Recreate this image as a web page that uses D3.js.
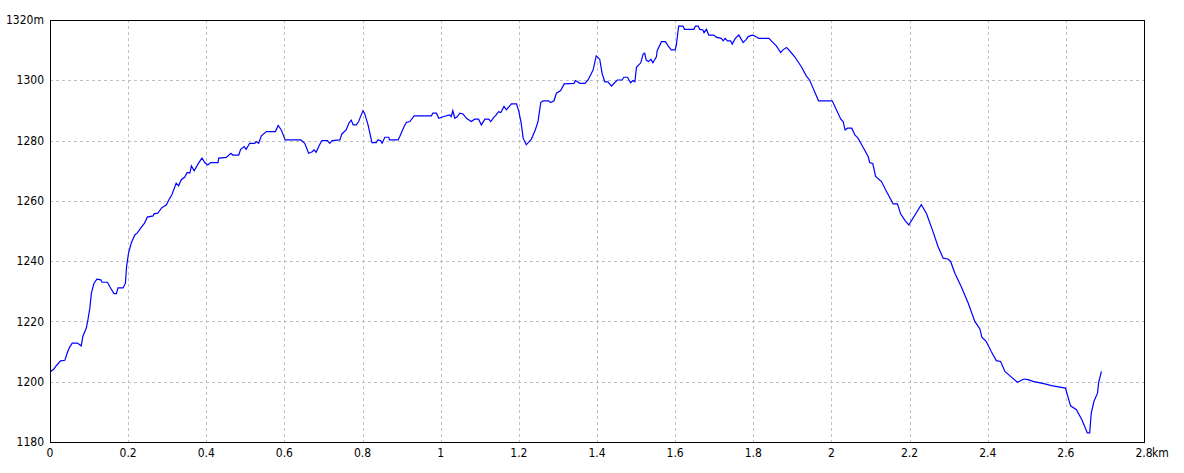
<!DOCTYPE html>
<html>
<head>
<meta charset="utf-8">
<script src="https://cdn.jsdelivr.net/npm/d3@7"></script>
<style>
html,body{margin:0;padding:0;background:#fff;}
svg text{font-family:"Liberation Sans Narrow","DejaVu Sans Condensed","Liberation Sans",sans-serif;font-size:12px;fill:#000;}
</style>
</head>
<body>
<svg id="chart" width="1184" height="473"></svg>
<script>
// distance (km)
const distance = [
0.002,0.010,0.016,0.027,0.038,0.044,0.050,0.057,0.070,0.080,0.084,0.093,0.097,0.102,0.106,0.112,0.120,0.130,0.133,0.147,
0.155,0.164,0.170,0.174,0.187,0.193,0.196,0.201,0.208,0.217,0.223,0.234,0.242,0.249,0.264,0.266,0.276,0.285,0.298,0.304,
0.312,0.323,0.329,0.336,0.345,0.351,0.358,0.362,0.369,0.381,0.389,0.396,0.404,0.411,0.430,0.432,0.451,0.463,0.468,0.483,
0.488,0.497,0.502,0.511,0.524,0.528,0.534,0.541,0.554,0.577,0.584,0.592,0.602,0.642,0.652,0.662,0.671,0.676,0.681,0.690,
0.696,0.710,0.716,0.722,0.742,0.747,0.758,0.765,0.771,0.776,0.784,0.790,0.794,0.801,0.805,0.814,0.824,0.835,0.839,0.846,
0.850,0.857,0.867,0.869,0.891,0.895,0.906,0.912,0.921,0.932,0.976,0.980,0.989,0.995,1.006,1.023,1.027,1.031,1.036,1.042,
1.049,1.057,1.066,1.078,1.087,1.097,1.104,1.113,1.123,1.128,1.136,1.142,1.148,1.154,1.162,1.168,1.181,1.194,1.200,1.206,
1.211,1.219,1.232,1.242,1.249,1.256,1.262,1.276,1.281,1.290,1.296,1.307,1.316,1.341,1.345,1.356,1.369,1.377,1.390,1.398,
1.407,1.413,1.420,1.428,1.437,1.452,1.464,1.469,1.478,1.486,1.492,1.497,1.501,1.512,1.518,1.522,1.526,1.532,1.538,1.543,
1.552,1.554,1.565,1.575,1.582,1.590,1.600,1.603,1.609,1.620,1.624,1.648,1.652,1.659,1.663,1.671,1.674,1.680,1.686,1.699,
1.705,1.718,1.723,1.728,1.734,1.742,1.746,1.754,1.763,1.768,1.774,1.782,1.787,1.797,1.804,1.814,1.840,1.848,1.859,1.870,
1.876,1.885,1.893,1.906,1.923,1.936,1.944,1.953,1.967,2.002,2.024,2.030,2.035,2.041,2.052,2.060,2.068,2.081,2.094,2.098,
2.106,2.113,2.128,2.141,2.158,2.169,2.177,2.188,2.198,2.230,2.243,2.260,2.273,2.286,2.298,2.305,2.316,2.332,2.350,2.367,
2.380,2.385,2.396,2.409,2.422,2.433,2.444,2.460,2.476,2.493,2.503,2.516,2.546,2.563,2.599,2.612,2.627,2.641,2.655,2.661,
2.665,2.672,2.681,2.684,2.691
];
// elevation (m)
const elevation = [
1203.4,1204.2,1205.3,1206.9,1207.1,1209.5,1211.4,1212.8,1212.8,1211.9,1215.0,1217.8,1220.5,1224.4,1229.4,1232.5,1234.0,1233.8,1233.0,1233.0,
1231.1,1229.2,1229.2,1231.1,1231.1,1232.7,1238.2,1242.7,1246.0,1248.7,1249.3,1251.3,1252.6,1254.6,1255.0,1255.7,1255.9,1257.6,1258.7,1260.3,
1262.0,1265.9,1265.0,1267.0,1267.9,1269.4,1269.2,1271.6,1270.0,1272.7,1274.2,1272.7,1271.9,1272.7,1272.7,1274.2,1274.4,1275.8,1275.2,1275.2,
1277.1,1278.0,1277.1,1279.1,1279.1,1279.7,1279.1,1281.6,1283.0,1283.0,1285.0,1283.5,1280.2,1280.2,1279.1,1275.8,1276.3,1276.9,1276.1,1278.6,
1280.0,1280.0,1279.1,1280.0,1280.2,1282.2,1283.5,1285.8,1286.8,1285.2,1285.2,1286.3,1287.7,1289.9,1289.1,1285.2,1279.3,1279.3,1280.2,1280.0,
1279.1,1281.1,1281.1,1280.2,1280.2,1281.3,1284.6,1286.0,1286.3,1288.2,1288.2,1289.1,1289.1,1287.4,1287.9,1288.5,1287.9,1289.9,1287.4,1287.9,
1289.1,1288.8,1287.4,1286.3,1287.1,1287.1,1285.2,1287.1,1287.1,1286.3,1287.7,1288.5,1289.6,1289.3,1291.3,1290.2,1292.2,1292.2,1289.6,1285.8,
1280.8,1278.6,1280.5,1283.5,1286.3,1292.6,1293.2,1293.2,1292.6,1293.2,1295.7,1296.6,1298.8,1299.0,1299.9,1299.0,1299.0,1300.1,1303.4,1308.1,
1307.0,1302.3,1299.5,1299.5,1298.1,1300.1,1300.1,1301.0,1301.0,1299.2,1299.9,1299.5,1304.3,1305.8,1308.7,1309.0,1306.7,1306.2,1307.0,1305.8,
1307.8,1309.8,1312.8,1312.8,1311.4,1310.1,1310.1,1311.7,1318.0,1318.0,1316.9,1316.9,1318.0,1318.0,1316.9,1316.7,1315.8,1316.9,1315.0,1315.0,
1314.3,1313.9,1313.1,1313.9,1313.1,1313.1,1312.0,1313.9,1315.0,1313.9,1312.5,1313.6,1314.5,1315.0,1314.7,1313.9,1313.9,1312.8,1311.4,1309.2,
1310.1,1310.9,1309.8,1307.8,1304.5,1301.4,1300.1,1297.4,1293.2,1293.2,1287.1,1286.3,1283.5,1284.1,1284.1,1281.9,1280.8,1277.8,1274.7,1272.7,
1272.3,1268.1,1266.4,1263.1,1259.0,1259.0,1255.7,1253.5,1252.0,1258.7,1255.9,1249.8,1244.8,1241.0,1240.7,1239.9,1236.0,1231.6,1226.1,1220.0,
1217.5,1214.8,1213.4,1210.0,1207.0,1206.7,1203.4,1201.6,1199.8,1200.9,1200.7,1200.1,1199.3,1198.7,1197.9,1192.0,1190.7,1187.4,1183.0,1183.0,
1189.6,1193.5,1196.2,1199.8,1203.4
];
const xTicks = [0,0.2,0.4,0.6,0.8,1,1.2,1.4,1.6,1.8,2,2.2,2.4,2.6,2.8];
const xTickLabels = ["0","0.2","0.4","0.6","0.8","1","1.2","1.4","1.6","1.8","2","2.2","2.4","2.6","2.8"];
const yTicks = [1180,1200,1220,1240,1260,1280,1300,1320];
const yTickLabels = ["1180","1200","1220","1240","1260","1280","1300","1320m"];

const svg = d3.select("#chart");
const L = 50, R = 1144, T = 20, B = 442;
const x = d3.scaleLinear().domain([0, 2.8]).range([L, R]);
const y = d3.scaleLinear().domain([1180, 1320]).range([B, T]);

// grid
const g = svg.append("g").attr("shape-rendering", "crispEdges");
g.selectAll(".vg").data(xTicks.slice(1, -1)).enter().append("line")
  .attr("x1", d => Math.round(x(d)) + 0.5).attr("x2", d => Math.round(x(d)) + 0.5)
  .attr("y1", T).attr("y2", B)
  .attr("stroke", "#c0c0c0").attr("stroke-dasharray", "3,3");
g.selectAll(".hg").data(yTicks.slice(1, -1)).enter().append("line")
  .attr("y1", d => Math.round(y(d)) + 0.5).attr("y2", d => Math.round(y(d)) + 0.5)
  .attr("x1", L).attr("x2", R)
  .attr("stroke", "#c0c0c0").attr("stroke-dasharray", "3,3");

// line
const pts = distance.map((d, i) => [d, elevation[i]]);
svg.append("path").datum(pts)
  .attr("fill", "none").attr("stroke", "#0000ff").attr("stroke-width", 1.2)
  .attr("d", d3.line().x(d => x(d[0])).y(d => y(d[1])));

// frame
svg.append("rect").attr("x", L + 0.5).attr("y", T + 0.5)
  .attr("width", R - L).attr("height", B - T)
  .attr("fill", "none").attr("stroke", "#000").attr("stroke-width", 1.3)
  .attr("shape-rendering", "crispEdges");

// y labels
svg.selectAll(".yl").data(yTicks).enter().append("text")
  .attr("x", 44).attr("y", d => y(d)).attr("dy", "0.35em")
  .attr("text-anchor", "end")
  .text((d, i) => yTickLabels[i]);

// x labels
svg.selectAll(".xl").data(xTicks).enter().append("text")
  .attr("x", d => x(d)).attr("y", 457)
  .attr("text-anchor", "middle")
  .text((d, i) => xTickLabels[i]);
svg.append("text").attr("x", x(2.8) + 8).attr("y", 457).attr("text-anchor", "start").text("km");
</script>
</body>
</html>
